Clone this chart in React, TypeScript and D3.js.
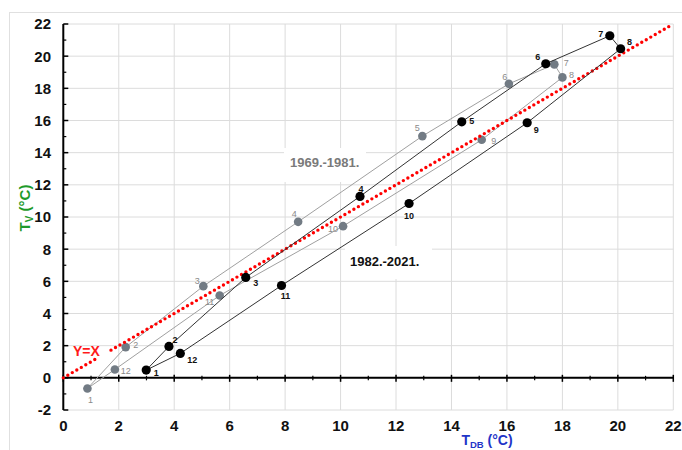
import React from "react";
import * as d3 from "d3";

// Months 1..12
const months = [1, 2, 3, 4, 5, 6, 7, 8, 9, 10, 11, 12];

// 1969.-1981. series (gray)
const grayTdb = [0.87, 2.25, 5.05, 8.47, 12.95, 16.07, 17.71, 18.0, 15.09, 10.09, 5.64, 1.86];
const grayTv = [-0.66, 1.91, 5.7, 9.7, 15.03, 18.28, 19.49, 18.68, 14.8, 9.43, 5.12, 0.52];

// 1982.-2021. series (black)
const blackTdb = [2.99, 3.81, 6.58, 10.7, 14.37, 17.4, 19.71, 20.1, 16.73, 12.47, 7.87, 4.22];
const blackTv = [0.48, 1.95, 6.24, 11.28, 15.92, 19.53, 21.27, 20.46, 15.86, 10.84, 5.74, 1.52];

// Y = X reference line segments (gap left for the label)
const yxSegments = [
  [0, 1.15],
  [1.72, 21.9],
];

const xTicks = d3.range(0, 23, 2);
const yTicks = d3.range(-2, 23, 2);
const xMinor = d3.range(1, 22, 2);
const yMinor = d3.range(-1, 22, 2);

const seriesNames = ["1969.-1981.", "1982.-2021."];

// label offsets (layout only)
const grayLabelOffsets: [number, number][] = [
  [3, 11], [10, -2], [-6, -5], [-4, -8], [-5, -8], [-4, -7],
  [12, -2], [9, -3], [12, 1], [-10, 3], [-10, 6], [11, 1],
];
const blackLabelOffsets: [number, number][] = [
  [10, 3], [6, -7], [10, 5], [1, -8], [10, -1], [-8, -7],
  [-9, -2], [9, -7], [9, 7], [0, 12], [4, 10], [12, 6],
];

const W = 682;
const H = 450;
const FONT = "'Liberation Sans', Arial, sans-serif";

export default function App() {
  const x = d3.scaleLinear().domain([0, 22]).range([63.3, 673.3]);
  const y = d3.scaleLinear().domain([-2, 22]).range([410, 24]);

  const grayPts = months.map((m, i) => ({ m, x: grayTdb[i], y: grayTv[i] }));
  const blackPts = months.map((m, i) => ({ m, x: blackTdb[i], y: blackTv[i] }));

  const loop = d3
    .line<{ x: number; y: number }>()
    .x((d) => x(d.x))
    .y((d) => y(d.y))
    .curve(d3.curveLinearClosed);

  return (
    <svg
      width={W}
      height={H}
      style={{ position: "absolute", left: 0, top: 0, display: "block", background: "#fff" }}
      fontFamily={FONT}
    >
      <rect x={0} y={0} width={W} height={H} fill="#fff" />
      <rect x={9.5} y={12.5} width={720} height={480} fill="none" stroke="#e0e0e0" strokeWidth={1} />

      {/* gridlines */}
      {xTicks.map((t) => (
        <line key={"gx" + t} x1={x(t)} x2={x(t)} y1={y(-2)} y2={y(22)} stroke="#dcdcdc" strokeWidth={1} />
      ))}
      {yTicks.map((t) => (
        <line key={"gy" + t} x1={x(0)} x2={x(22)} y1={y(t)} y2={y(t)} stroke="#dcdcdc" strokeWidth={1} />
      ))}

      {/* label boxes */}
      <rect x={284} y={148} width={82} height={34} fill="#fff" />
      <rect x={345} y={246} width={87} height={33} fill="#fff" />

      {/* axes */}
      <line x1={x(0)} x2={x(0)} y1={y(-2)} y2={y(22)} stroke="#000" strokeWidth={2} />
      {yTicks.map((t) => (
        <line key={"ty" + t} x1={x(0)} x2={x(0) + 5} y1={y(t)} y2={y(t)} stroke="#000" strokeWidth={1.5} />
      ))}
      {yMinor.map((t) => (
        <line key={"tym" + t} x1={x(0)} x2={x(0) + 3} y1={y(t)} y2={y(t)} stroke="#000" strokeWidth={1.2} />
      ))}
      <line x1={x(0)} x2={x(22)} y1={y(0)} y2={y(0)} stroke="#000" strokeWidth={2} />
      {xTicks.map((t) => (
        <line key={"tx" + t} x1={x(t)} x2={x(t)} y1={y(0) - 3} y2={y(0) + 4} stroke="#000" strokeWidth={1.5} />
      ))}
      {xMinor.map((t) => (
        <line key={"txm" + t} x1={x(t)} x2={x(t)} y1={y(0) - 2} y2={y(0) + 2.5} stroke="#000" strokeWidth={1.2} />
      ))}

      {/* tick labels */}
      {yTicks.map((t) => (
        <text key={"ly" + t} x={51} y={y(t)} dy="0.36em" textAnchor="end" fontSize={15} fontWeight="bold" fill="#111">
          {t}
        </text>
      ))}
      {xTicks.map((t) => (
        <text key={"lx" + t} x={x(t)} y={431} textAnchor="middle" fontSize={15} fontWeight="bold" fill="#111">
          {t}
        </text>
      ))}

      {/* axis titles */}
      <text x={487} y={445} textAnchor="middle" fontSize={14} fontWeight="bold" fill="#1f35c8">
        T<tspan fontSize={9.5} dy={2.5}>DB</tspan>
        <tspan dy={-2.5}> (°C)</tspan>
      </text>
      <text
        transform="translate(30,208) rotate(-90)"
        textAnchor="middle"
        fontSize={15}
        fontWeight="bold"
        fill="#1e9a2a"
      >
        T<tspan fontSize={10} dy={3}>V</tspan>
        <tspan dy={-3}> (°C)</tspan>
      </text>

      {/* gray series */}
      <path d={loop(grayPts) || ""} fill="none" stroke="#a0a0a0" strokeWidth={1} />
      {grayPts.map((p) => (
        <circle key={"gp" + p.m} cx={x(p.x)} cy={y(p.y)} r={4.3} fill="#727b84" />
      ))}
      {grayPts.map((p, i) => (
        <text
          key={"gl" + p.m}
          x={x(p.x) + grayLabelOffsets[i][0]}
          y={y(p.y) + grayLabelOffsets[i][1]}
          dy="0.35em"
          textAnchor="middle"
          fontSize={9}
          fill="#8a8a8a"
        >
          {p.m}
        </text>
      ))}

      {/* Y = X dotted line */}
      {yxSegments.map((s, i) => (
        <line
          key={"yx" + i}
          x1={x(s[0])}
          y1={y(s[0])}
          x2={x(s[1])}
          y2={y(s[1])}
          stroke="#ff0000"
          strokeWidth={3.4}
          strokeDasharray="0 5.2"
          strokeLinecap="round"
        />
      ))}
      <text x={73} y={356} fontSize={14} fontWeight="bold" fill="#ff1a1a">
        Y=X
      </text>

      {/* black series */}
      <path d={loop(blackPts) || ""} fill="none" stroke="#333" strokeWidth={1} />
      {blackPts.map((p) => (
        <circle key={"bp" + p.m} cx={x(p.x)} cy={y(p.y)} r={4.6} fill="#000" />
      ))}
      {blackPts.map((p, i) => (
        <text
          key={"bl" + p.m}
          x={x(p.x) + blackLabelOffsets[i][0]}
          y={y(p.y) + blackLabelOffsets[i][1]}
          dy="0.35em"
          textAnchor="middle"
          fontSize={9}
          fontWeight="bold"
          fill="#111"
        >
          {p.m}
        </text>
      ))}

      {/* series labels */}
      <text x={290} y={167} fontSize={13} fontWeight="bold" fill="#7a7a7a">
        {seriesNames[0]}
      </text>
      <text x={350} y={266} fontSize={13} fontWeight="bold" fill="#111">
        {seriesNames[1]}
      </text>
    </svg>
  );
}
